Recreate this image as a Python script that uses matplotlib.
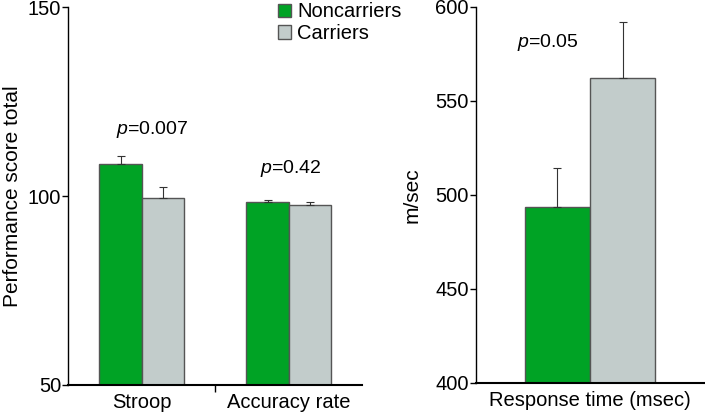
import matplotlib
matplotlib.use("Agg")
import matplotlib.pyplot as plt
import numpy as np
from matplotlib.patches import Patch

plt.rcParams['font.family'] = ['Liberation Sans', 'DejaVu Sans']
plt.rcParams['mathtext.fontset'] = 'custom'
plt.rcParams['mathtext.it'] = 'Liberation Sans:italic'

groups = ["Noncarriers", "Carriers"]
colors = ["#00A325", "#C2CCCB"]

left_categories = ["Stroop", "Accuracy rate"]
left_means = {"Noncarriers": [108.6, 98.4], "Carriers": [99.4, 97.5]}
left_err = {"Noncarriers": [1.9, 0.6], "Carriers": [2.9, 0.9]}
left_pvals = ["p=0.007", "p=0.42"]
left_yticks = [50, 100, 150]

right_categories = ["Response time (msec)"]
right_means = {"Noncarriers": [493.3], "Carriers": [561.9]}
right_err = {"Noncarriers": [20.7], "Carriers": [29.8]}
right_pval = "p=0.05"
right_yticks = [400, 450, 500, 550, 600]

fig = plt.figure(figsize=(7.05, 4.15), dpi=100)
axL = fig.add_axes([0.0965, 0.0723, 0.417, 0.9107])
axR = fig.add_axes([0.675, 0.0778, 0.3236, 0.906])

bw = 0.286
edge = "#555555"
FS = 14.5

def draw(ax, cats, means, errs, ylim):
    x = np.arange(len(cats))
    for i, g in enumerate(groups):
        xs = x + (i - 0.5) * bw
        ax.bar(xs, means[g], width=bw, color=colors[i], edgecolor=edge, linewidth=1.0, zorder=2)
        ax.errorbar(xs, means[g], yerr=[np.zeros(len(cats)), errs[g]], fmt='none',
                    ecolor="#333333", elinewidth=0.8, capsize=3, capthick=0.8, zorder=3)
    ax.set_ylim(*ylim)
    ax.set_xlim(-0.5, len(cats) - 0.5)
    ax.set_xticks(x)
    ax.set_xticklabels(cats, fontsize=FS)
    ax.tick_params(axis='x', length=0, pad=6)
    ax.tick_params(axis='y', labelsize=FS, length=4, width=1, direction='out', pad=1)
    for s in ["top", "right"]:
        ax.spines[s].set_visible(False)
    ax.spines["left"].set_linewidth(1.0)
    ax.spines["bottom"].set_linewidth(1.5)

draw(axL, left_categories, left_means, left_err, (50, 150))
axL.set_yticks(left_yticks)
axL.set_xticks([0.5], minor=True)
axL.tick_params(axis='x', which='minor', length=5, width=1, direction='out')
axL.set_ylabel("Performance score total", fontsize=15, labelpad=4)

draw(axR, right_categories, right_means, right_err, (400, 600))
axR.set_yticks(right_yticks)
axR.set_ylabel("m/sec", fontsize=15, labelpad=10)

def ptext(ax, x, y, s):
    p, rest = s.split("=", 1)
    ax.text(x, y, r"$\mathit{p}$" + "=" + rest, ha='center', va='center', fontsize=14)

ptext(axL, 0.07, 117.7, left_pvals[0])
ptext(axL, 1.017, 107.4, left_pvals[1])
ptext(axR, -0.184, 581.2, right_pval)

handles = [Patch(facecolor=colors[i], edgecolor=edge, label=groups[i]) for i in range(2)]
fig.legend(handles=handles, loc='upper left', bbox_to_anchor=(0.374, 1.028), frameon=False,
           fontsize=14.5, handlelength=0.65, handleheight=0.65, handletextpad=0.3, labelspacing=0.12,
           borderpad=0.2)

fig.savefig("out.png", dpi=100)
